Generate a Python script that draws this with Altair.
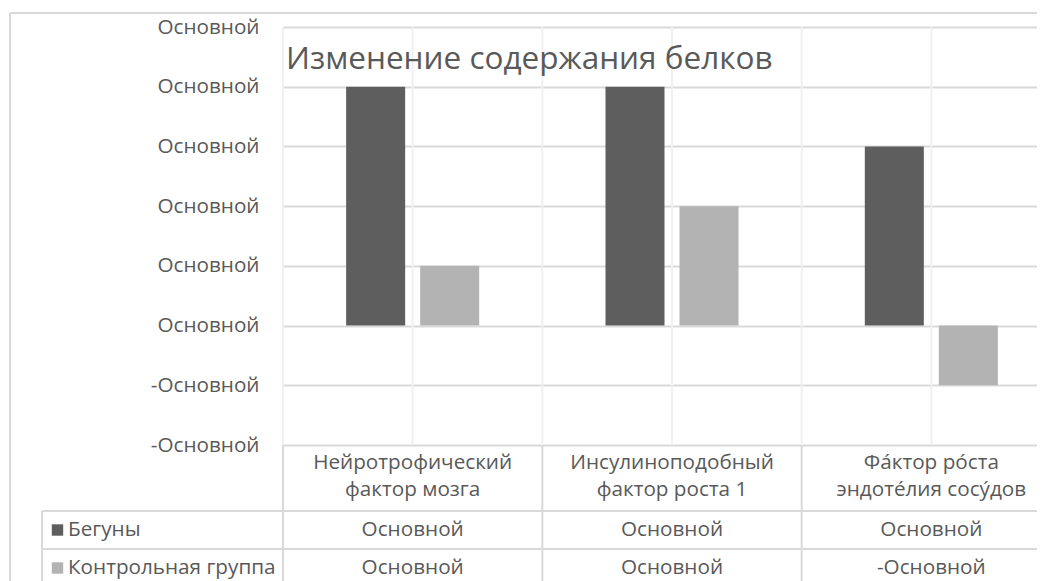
import altair as alt
import pandas as pd

# ---- data ----
categories = [
    "Нейротрофический\nфактор мозга",
    "Инсулиноподобный\nфактор роста 1",
    "Фа́ктор ро́ста\nэндоте́лия сосу́дов",
]
series = ["Бегуны", "Контрольная группа"]
runners = [4, 4, 3]
control = [1, 2, -1]
y_ticks = [-2, -1, 0, 1, 2, 3, 4, 5]
colors = ["#5e5e5e", "#b3b3b3"]
title_text = "Изменение содержания белков"

FONT = "Open Sans"
TEXT_COLOR = "#595959"
FS = 20.7

rows = []
for i, c in enumerate(categories):
    rows.append({"category": c, "series": series[0], "value": runners[i]})
    rows.append({"category": c, "series": series[1], "value": control[i]})
df = pd.DataFrame(rows)
cat_df = pd.DataFrame({"category": categories})
one = pd.DataFrame({"k": [0]})

# layout (pixels relative to plot origin)
W, H = 754, 418
row_lines = [484, 522]
row_centers = [503, 541]
header_first_line = 436

x_scale = alt.Scale(domain=categories, range=[0, 778], paddingInner=0, paddingOuter=0)
y_scale = alt.Scale(domain=[-2, 5], nice=False, zero=False)
color_scale = alt.Scale(domain=series, range=colors)

X = lambda bp: alt.X("category:N", scale=x_scale, axis=None, bandPosition=bp)

grid_col = "#d9d9d9"

border_v = alt.Chart(one).mark_rule(color=grid_col, strokeWidth=2).encode(
    x=alt.value(-273), y=alt.value(-14), y2=alt.value(600))
border_h = alt.Chart(one).mark_rule(color=grid_col, strokeWidth=2).encode(
    x=alt.value(-273), x2=alt.value(800), y=alt.value(-14))

vgrid0 = alt.Chart(cat_df).mark_rule(color="#f0f0f0", strokeWidth=2).encode(
    x=X(0), y=alt.datum(5), y2=alt.datum(-2))
vgrid1 = alt.Chart(cat_df).mark_rule(color="#f0f0f0", strokeWidth=2).encode(
    x=X(0.5), y=alt.datum(5), y2=alt.datum(-2))

bars = alt.Chart(df).mark_bar().encode(
    x=alt.X("category:N", scale=x_scale, axis=None),
    xOffset=alt.XOffset("series:N", scale=alt.Scale(domain=series, paddingInner=0.2027, paddingOuter=0.853)),
    y=alt.Y("value:Q", scale=y_scale, title=None,
            axis=alt.Axis(values=y_ticks,
                          labelExpr="datum.value < 0 ? '-Основной' : 'Основной'",
                          grid=True, gridColor=grid_col, gridWidth=2,
                          domain=False, ticks=False, labelPadding=24,
                          labelFontSize=FS, labelColor=TEXT_COLOR, labelFont=FONT)),
    color=alt.Color("series:N", scale=color_scale, legend=None),
)

table_v = alt.Chart(cat_df).mark_rule(color=grid_col, strokeWidth=2).encode(
    x=X(0), y=alt.datum(-2), y2=alt.value(600))
table_left = alt.Chart(one).mark_rule(color=grid_col, strokeWidth=2).encode(
    x=alt.value(-241), y=alt.value(row_lines[0]), y2=alt.value(600))
table_h = [
    alt.Chart(one).mark_rule(color=grid_col, strokeWidth=2).encode(
        x=alt.value(-241), x2=alt.value(800), y=alt.value(yy))
    for yy in row_lines
]

title = alt.Chart(one).mark_text(
    text=title_text, align="left", baseline="alphabetic", fontSize=31.5,
    font=FONT, color=TEXT_COLOR).encode(x=alt.value(3), y=alt.value(42))

cat_text = alt.Chart(cat_df).mark_text(
    lineBreak="\n", lineHeight=27, baseline="middle", align="center",
    fontSize=FS, font=FONT, color=TEXT_COLOR).encode(
    x=X(0.5), y=alt.value(header_first_line), text="category:N")

value_texts = []
legend_marks = []
for i, s in enumerate(series):
    value_texts.append(
        alt.Chart(df).transform_filter(alt.datum.series == s).transform_calculate(
            label="datum.value < 0 ? '-Основной' : 'Основной'"
        ).mark_text(baseline="middle", align="center", fontSize=FS, font=FONT,
                    color=TEXT_COLOR).encode(
            x=X(0.5), y=alt.value(row_centers[i]), text="label:N")
    )
    sdf = pd.DataFrame({"series": [s]})
    legend_marks.append(
        alt.Chart(sdf).mark_square(size=130, opacity=1).encode(
            x=alt.value(-225.5), y=alt.value(row_centers[i]),
            color=alt.Color("series:N", scale=color_scale, legend=None))
    )
    legend_marks.append(
        alt.Chart(sdf).mark_text(align="left", baseline="middle", fontSize=FS,
                                 font=FONT, color=TEXT_COLOR).encode(
            x=alt.value(-215), y=alt.value(row_centers[i]), text="series:N")
    )

chart = alt.layer(
    border_v, border_h, vgrid0, vgrid1, bars, table_v, table_left, *table_h,
    title, cat_text, *value_texts, *legend_marks
).properties(
    width=W, height=H,
    padding={"left": 275, "top": 19, "right": 0, "bottom": 136},
    autosize=alt.AutoSizeParams(type="none"),
    background="white",
).configure_view(stroke=None)

chart.save("out.html", embed_options={"renderer": "svg", "actions": False})
